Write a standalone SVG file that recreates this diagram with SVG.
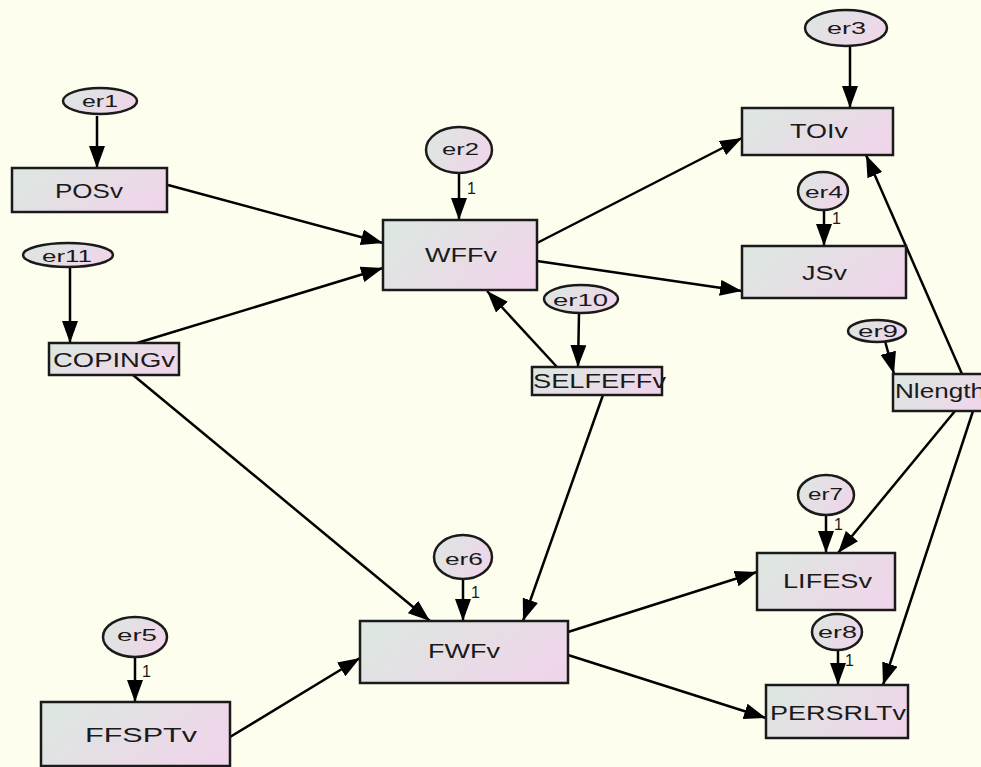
<svg xmlns="http://www.w3.org/2000/svg" width="981" height="767" viewBox="0 0 981 767">
<defs>
<linearGradient id="g" x1="0" y1="0.3" x2="1" y2="0.7">
<stop offset="0" stop-color="#dde6e1"/>
<stop offset="1" stop-color="#f0d5ea"/>
</linearGradient>
<marker id="ah" markerUnits="userSpaceOnUse" markerWidth="22" markerHeight="16" refX="22" refY="8" orient="auto">
<path d="M0,0 L22,8 L0,16 z" fill="#000"/>
</marker>
<style>
.box{fill:url(#g);stroke:#1a1a1a;stroke-width:2.5}
.ell{fill:url(#g);stroke:#1a1a1a;stroke-width:2.5}
.lab{font-family:"Liberation Sans",Arial,sans-serif;font-size:21px;fill:#1a1a1a}
.el{font-family:"Liberation Sans",Arial,sans-serif;font-size:17px;fill:#1a1a1a}
.one{font-family:"Liberation Sans",Arial,sans-serif;font-size:16px;fill:#1a1a1a}
.c{stroke:#000;stroke-width:2.5;fill:none;marker-end:url(#ah)}
</style>
</defs>
<rect x="0" y="0" width="981" height="767" fill="#fefeee"/>
<g id="connectors">
<line class="c" x1="97" y1="116" x2="97" y2="168"/>
<line class="c" x1="459" y1="173" x2="459" y2="220"/>
<line class="c" x1="850" y1="47" x2="850" y2="108"/>
<line class="c" x1="824" y1="210" x2="824" y2="246"/>
<line class="c" x1="885" y1="341" x2="894" y2="374"/>
<line class="c" x1="70" y1="267" x2="70" y2="343"/>
<line class="c" x1="579" y1="313" x2="578" y2="367"/>
<line class="c" x1="463" y1="579" x2="463" y2="621"/>
<line class="c" x1="826" y1="515" x2="826" y2="553"/>
<line class="c" x1="838" y1="650" x2="838" y2="685"/>
<line class="c" x1="135" y1="657" x2="135" y2="702"/>
<line class="c" x1="168" y1="185" x2="383" y2="243"/>
<line class="c" x1="137" y1="343" x2="383" y2="268"/>
<line class="c" x1="537" y1="243" x2="742" y2="138"/>
<line class="c" x1="537" y1="261" x2="742" y2="291"/>
<line class="c" x1="557" y1="367" x2="487" y2="291"/>
<line class="c" x1="603" y1="395" x2="523" y2="621"/>
<line class="c" x1="133" y1="375" x2="430" y2="621"/>
<line class="c" x1="230" y1="737" x2="360" y2="658"/>
<line class="c" x1="568" y1="632" x2="757" y2="572"/>
<line class="c" x1="568" y1="655" x2="766" y2="718"/>
<line class="c" x1="962" y1="374" x2="866" y2="155"/>
<line class="c" x1="955" y1="411" x2="838" y2="553"/>
<line class="c" x1="973" y1="411" x2="883" y2="685"/>
<text class="one" x="467" y="194">1</text>
<text class="one" x="832" y="224">1</text>
<text class="one" x="471" y="598">1</text>
<text class="one" x="834" y="530">1</text>
<text class="one" x="845" y="666">1</text>
<text class="one" x="142" y="677">1</text>
</g>
<g id="er1"><ellipse class="ell" cx="100" cy="101" rx="37" ry="13"/><text class="el" x="82" y="107" textLength="36" lengthAdjust="spacingAndGlyphs">er1</text></g>
<g id="POSv"><rect class="box" x="12" y="168" width="155" height="44"/><text class="lab" x="55" y="198" textLength="68" lengthAdjust="spacingAndGlyphs">POSv</text></g>
<g id="er2"><ellipse class="ell" cx="459" cy="150" rx="33" ry="23"/><text class="el" x="442" y="155" textLength="37" lengthAdjust="spacingAndGlyphs">er2</text></g>
<g id="WFFv"><rect class="box" x="383" y="220" width="154" height="70"/><text class="lab" x="425" y="262" textLength="72" lengthAdjust="spacingAndGlyphs">WFFv</text></g>
<g id="er3"><ellipse class="ell" cx="846" cy="28" rx="41" ry="18"/><text class="el" x="827" y="34" textLength="39" lengthAdjust="spacingAndGlyphs">er3</text></g>
<g id="TOIv"><rect class="box" x="742" y="108" width="151" height="47"/><text class="lab" x="790" y="138" textLength="58" lengthAdjust="spacingAndGlyphs">TOIv</text></g>
<g id="er4"><ellipse class="ell" cx="823" cy="191" rx="25" ry="19"/><text class="el" x="805" y="198" textLength="38" lengthAdjust="spacingAndGlyphs">er4</text></g>
<g id="JSv"><rect class="box" x="742" y="246" width="164" height="52"/><text class="lab" x="802" y="280" textLength="45" lengthAdjust="spacingAndGlyphs">JSv</text></g>
<g id="er9"><ellipse class="ell" cx="877" cy="331" rx="29" ry="11"/><text class="el" x="858" y="337" textLength="40" lengthAdjust="spacingAndGlyphs">er9</text></g>
<g id="Nlength"><rect class="box" x="893" y="374" width="100" height="37"/><text class="lab" x="895" y="398" textLength="90" lengthAdjust="spacingAndGlyphs">Nlength</text></g>
<g id="er11"><ellipse class="ell" cx="68" cy="255" rx="45" ry="12"/><text class="el" x="42" y="262" textLength="50" lengthAdjust="spacingAndGlyphs">er11</text></g>
<g id="COPINGv"><rect class="box" x="49" y="343" width="130" height="32"/><text class="lab" x="53" y="367" textLength="122" lengthAdjust="spacingAndGlyphs">COPINGv</text></g>
<g id="er10"><ellipse class="ell" cx="581" cy="299" rx="37" ry="14"/><text class="el" x="553" y="306" textLength="55" lengthAdjust="spacingAndGlyphs">er10</text></g>
<g id="SELFEFFv"><rect class="box" x="532" y="367" width="130" height="28"/><text class="lab" x="533" y="388" textLength="133" lengthAdjust="spacingAndGlyphs">SELFEFFv</text></g>
<g id="er6"><ellipse class="ell" cx="463" cy="557" rx="29" ry="22"/><text class="el" x="445" y="565" textLength="38" lengthAdjust="spacingAndGlyphs">er6</text></g>
<g id="FWFv"><rect class="box" x="360" y="621" width="208" height="62"/><text class="lab" x="428" y="658" textLength="72" lengthAdjust="spacingAndGlyphs">FWFv</text></g>
<g id="er7"><ellipse class="ell" cx="826" cy="495" rx="28" ry="20"/><text class="el" x="808" y="500" textLength="35" lengthAdjust="spacingAndGlyphs">er7</text></g>
<g id="LIFESv"><rect class="box" x="757" y="553" width="138" height="57"/><text class="lab" x="783" y="588" textLength="89" lengthAdjust="spacingAndGlyphs">LIFESv</text></g>
<g id="er8"><ellipse class="ell" cx="837" cy="632" rx="25" ry="18"/><text class="el" x="818" y="638" textLength="39" lengthAdjust="spacingAndGlyphs">er8</text></g>
<g id="PERSRLTv"><rect class="box" x="766" y="685" width="142" height="53"/><text class="lab" x="770" y="720" textLength="136" lengthAdjust="spacingAndGlyphs">PERSRLTv</text></g>
<g id="er5"><ellipse class="ell" cx="135" cy="637" rx="32" ry="20"/><text class="el" x="117" y="641" textLength="40" lengthAdjust="spacingAndGlyphs">er5</text></g>
<g id="FFSPTv"><rect class="box" x="41" y="702" width="189" height="64"/><text class="lab" x="85" y="742" textLength="112" lengthAdjust="spacingAndGlyphs">FFSPTv</text></g>
</svg>
